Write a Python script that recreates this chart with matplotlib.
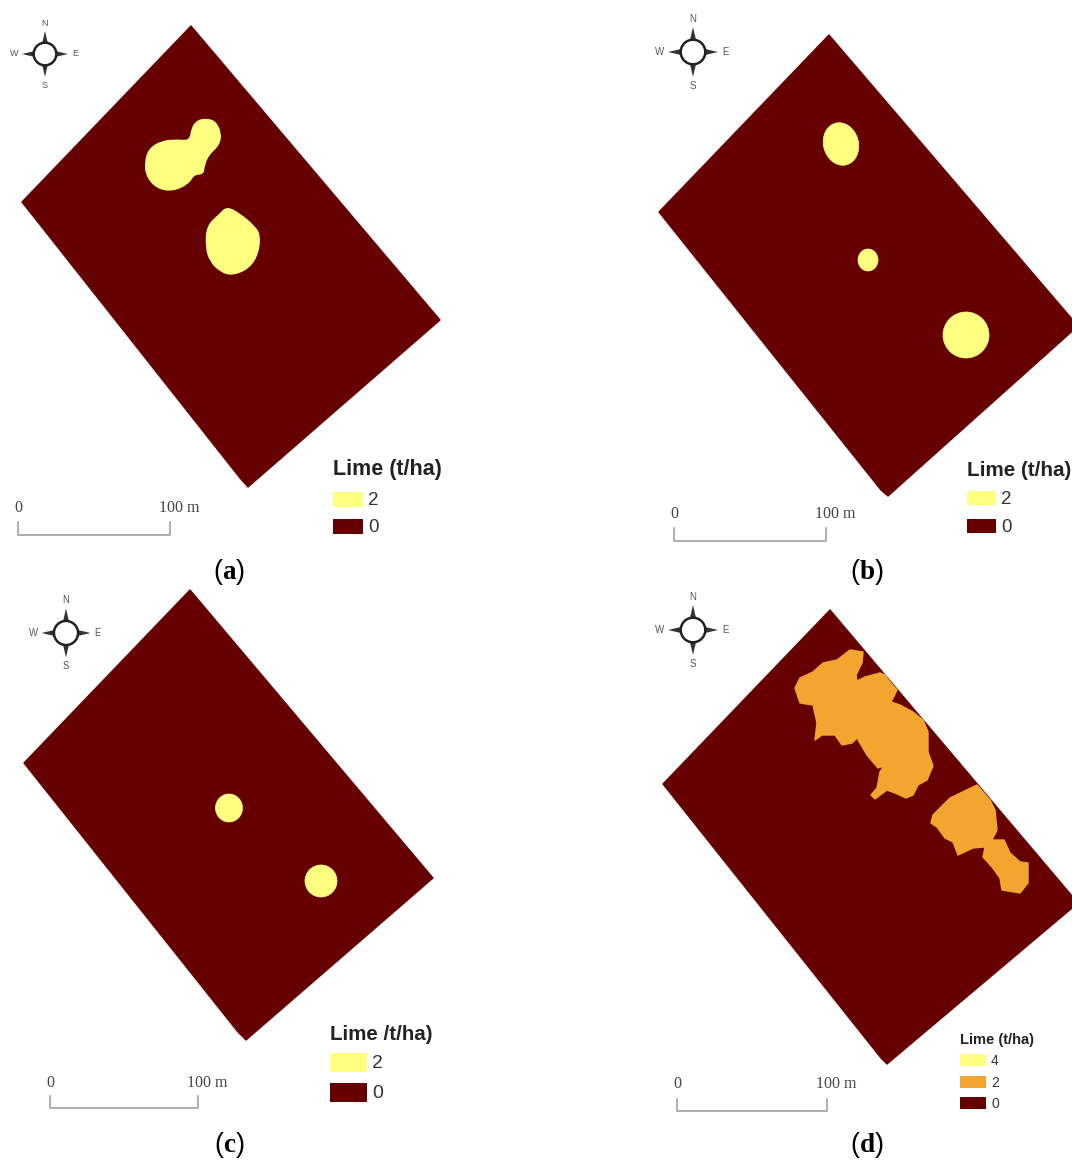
import matplotlib
matplotlib.use("Agg")
import matplotlib.pyplot as plt
from matplotlib.patches import Polygon, Ellipse, Circle, Rectangle, PathPatch
from matplotlib.path import Path

plt.rcParams['font.family'] = ['Liberation Sans', 'DejaVu Sans']
plt.rcParams['mathtext.fontset'] = 'custom'
plt.rcParams['mathtext.rm'] = 'Liberation Serif'
plt.rcParams['mathtext.bf'] = 'Liberation Serif:bold'

DARK = '#660000'
YELLOW = '#FFFF80'
ORANGE = '#F2A630'

# field outlines (image pixels)
field_a = [(191, 26), (440, 320), (248, 487), (240, 478), (22, 202)]
field_b = [(829, 35), (1078, 326), (888, 496), (881, 490), (659, 212)]
field_c = [(190, 590), (433, 878), (246, 1040), (238, 1032), (24, 763)]
field_d = [(830, 610), (1078, 903), (887, 1064), (881, 1058), (663, 784)]

# lime zones
zones_a = [
    [(205, 119), (215, 121), (221, 133), (219, 145), (208, 155), (204, 166), (203, 174), (194, 174), (188, 184),
     (172, 191), (157, 188), (147, 177), (145, 163), (149, 149), (162, 141), (178, 140), (190, 141), (192, 128),
     (197, 121)],
    [(227, 207), (240, 214), (254, 226), (260, 235), (258, 254), (249, 268), (233, 275), (221, 272), (210, 261),
     (206, 247), (207, 226), (220, 214)],
]
zones_d = [
    [(850, 650), (863, 652), (862, 663), (856, 675), (857, 681), (865, 677), (880, 673), (885, 675), (890, 682),
     (897, 690), (891, 702), (900, 705), (913, 712), (923, 720), (928, 732), (928, 752), (933, 766), (927, 780),
     (918, 785), (913, 795), (906, 798), (895, 793), (887, 790), (875, 799), (871, 795), (877, 788), (880, 772),
     (884, 766), (878, 768), (867, 755), (857, 738), (852, 743), (842, 745), (835, 735), (822, 735), (815, 740),
     (817, 723), (813, 705), (800, 703), (795, 688), (800, 678), (813, 672), (823, 663), (837, 660)],
    [(977, 785), (990, 800), (995, 810), (997, 830), (992, 840), (1004, 840), (1010, 853), (1020, 862), (1028, 863),
     (1028, 883), (1020, 893), (1002, 890), (1000, 878), (992, 867), (983, 857), (985, 847), (973, 848), (958, 855),
     (953, 842), (945, 838), (937, 827), (931, 823), (933, 815), (950, 798)],
]
# x, y, width, height, angle
spots_b = [(841, 144, 35, 43, -15), (868, 260, 20, 22, 0), (966, 335, 46, 46, 0)]
spots_c = [(229, 808, 27, 28, 0), (321, 881, 32, 32, 0)]

# x, y, size
compasses = [(45, 54, 0.92), (693, 52, 1.0), (66, 633, 0.98), (693, 630, 1.0)]
captions = ['a', 'b', 'c', 'd']
caption_pos = [(229, 572), (867, 572), (229, 1145), (867, 1145)]

# x0, x1, top of the ticks, bottom of the bar, label y
scalebars = [(18, 170, 522, 535, 508), (674, 826, 528, 541, 514), (50, 198, 1096, 1108, 1083), (677, 827, 1099, 1111, 1084)]

legend_titles = ['Lime (t/ha)', 'Lime (t/ha)', 'Lime /t/ha)', 'Lime (t/ha)']
legend_labels_2 = ['2', '0']
legend_labels_3 = ['4', '2', '0']


fig = plt.figure(figsize=(10.72, 11.6), dpi=100)
ax = fig.add_axes([0, 0, 1, 1])
ax.set_xlim(0, 1072)
ax.set_ylim(1160, 0)
ax.axis('off')


def draw_zone(points, colour):
    ax.add_patch(Polygon(points, closed=True, fc=colour, ec=colour, lw=1, joinstyle='round'))


def draw_smooth_zone(points, colour):
    # outline points become control points of a closed curve
    mids = [((points[i][0] + points[i - 1][0]) / 2, (points[i][1] + points[i - 1][1]) / 2) for i in range(len(points))]
    verts = [mids[0]]
    codes = [Path.MOVETO]
    for i in range(len(points)):
        verts += [points[i], mids[(i + 1) % len(points)]]
        codes += [Path.CURVE3, Path.CURVE3]
    ax.add_patch(PathPatch(Path(verts, codes), fc=colour, ec=colour, lw=1))


def draw_spot(spot):
    x, y, w, h, angle = spot
    ax.add_patch(Ellipse((x, y), w, h, angle=angle, fc=YELLOW, ec=YELLOW, lw=0.5))


def draw_compass(cx, cy, size):
    for dx, dy in [(0, -1), (0, 1), (-1, 0), (1, 0)]:
        px, py = -dy, dx
        spike = [(cx + dx * 10 * size + px * 3.5 * size, cy + dy * 10 * size + py * 3.5 * size),
                 (cx + dx * 25 * size, cy + dy * 25 * size),
                 (cx + dx * 10 * size - px * 3.5 * size, cy + dy * 10 * size - py * 3.5 * size)]
        ax.add_patch(Polygon(spike, closed=True, fc='#333333', ec='none'))
    ax.add_patch(Circle((cx, cy), 12.3 * size, fc='white', ec='#222222', lw=1.8))
    for letter, dx, dy in [('N', 0, -33.5), ('S', 0, 34), ('W', -33, 0), ('E', 32.5, 0)]:
        ax.text(cx + dx * size, cy + dy * size, letter, fontsize=7 * size, color='#555555', ha='center', va='center')


def draw_scalebar(x0, x1, top, bottom, label_y):
    ax.plot([x0, x0, x1, x1], [top, bottom, bottom, top], color='#999999', lw=1.1)
    ax.text(x0, label_y, '0', family='Liberation Serif', fontsize=11.5, color='#444444', ha='center', va='center')
    ax.text(x1 + 9, label_y, '100 m', family='Liberation Serif', fontsize=11.5, color='#444444', ha='center', va='center')


def draw_legend(x, title, title_y, labels, colours, ys, w, h, title_size, label_size):
    ax.text(x, title_y, title, fontsize=title_size, fontweight='bold', color='#222222', ha='left', va='center')
    for label, colour, y in zip(labels, colours, ys):
        ax.add_patch(Rectangle((x, y), w, h, fc=colour, ec='none'))
        ax.text(x + w + 5, y + h / 2 + 1, label, fontsize=label_size, color='#333333', ha='left', va='center')


for field in [field_a, field_b, field_c, field_d]:
    draw_zone(field, DARK)
for zone in zones_a:
    draw_smooth_zone(zone, YELLOW)
for zone in zones_d:
    draw_zone(zone, ORANGE)
for spot in spots_b + spots_c:
    draw_spot(spot)

for compass in compasses:
    draw_compass(*compass)
for bar in scalebars:
    draw_scalebar(*bar)

draw_legend(333, legend_titles[0], 470, legend_labels_2, [YELLOW, DARK], [492, 519], 30, 15, 15.5, 13.5)
draw_legend(967, legend_titles[1], 470, legend_labels_2, [YELLOW, DARK], [491, 519], 29, 14, 14.9, 13.5)
draw_legend(330, legend_titles[2], 1034, legend_labels_2, [YELLOW, DARK], [1053, 1083], 37, 19, 14.8, 14)
draw_legend(960, legend_titles[3], 1040, legend_labels_3, [YELLOW, ORANGE, DARK], [1054, 1076, 1097], 26, 12, 10.5, 10)

for letter, (x, y) in zip(captions, caption_pos):
    ax.text(x, y, '($\\mathbf{' + letter + '}$)', fontsize=19.5, color='black', ha='center', va='center')

fig.savefig('out.png', dpi=100, facecolor='white')
